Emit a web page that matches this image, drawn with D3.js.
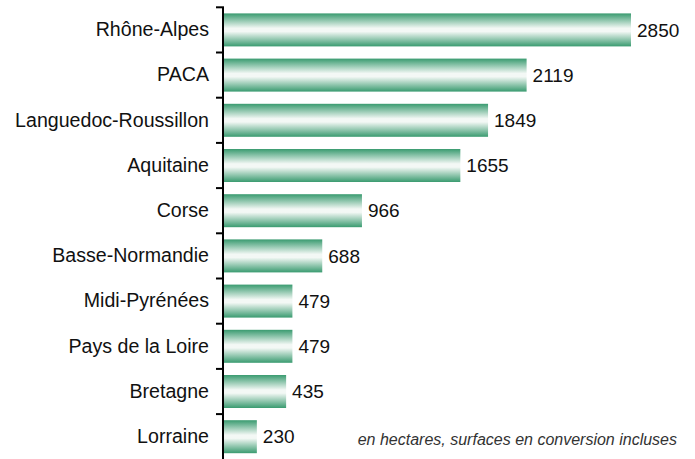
<!DOCTYPE html>
<html>
<head>
<meta charset="utf-8">
<script src="https://cdn.jsdelivr.net/npm/d3@7"></script>
<style>
  body { margin: 0; background: #fff; }
  svg { display: block; }
</style>
</head>
<body>
<div id="chart"></div>
<script>
"use strict";

// Data
const regions = ["Rhône-Alpes", "PACA", "Languedoc-Roussillon", "Aquitaine", "Corse",
                 "Basse-Normandie", "Midi-Pyrénées", "Pays de la Loire", "Bretagne", "Lorraine"];
const surfaces = [2850, 2119, 1849, 1655, 966, 688, 479, 479, 435, 230];
const note = "en hectares, surfaces en conversion incluses";

const width = 695, height = 459;

let svg = d3.select("#chart").append("svg")
  .attr("width", width)
  .attr("height", height);

// Cylinder-like gradient for bars
let grad = svg.append("defs").append("linearGradient")
  .attr("id", "bargrad")
  .attr("x1", 0).attr("y1", 0).attr("x2", 0).attr("y2", 1);
grad.append("stop").attr("offset", "0%").attr("stop-color", "#3a9b70");
grad.append("stop").attr("offset", "45%").attr("stop-color", "#f3f8f5");
grad.append("stop").attr("offset", "55%").attr("stop-color", "#f3f8f5");
grad.append("stop").attr("offset", "100%").attr("stop-color", "#3a9b70");

let x = d3.scaleLinear()
  .domain([0, 2850])
  .range([224, 631]);

let y = d3.scaleBand()
  .domain(regions)
  .range([7.3, 459.3])
  .paddingInner(0.27)
  .paddingOuter(0.135);

// Bars
svg.selectAll("rect.bar")
  .data(surfaces)
  .enter().append("rect")
  .attr("class", "bar")
  .attr("x", x(0))
  .attr("y", (d, i) => y(regions[i]))
  .attr("width", d => x(d) - x(0))
  .attr("height", y.bandwidth())
  .style("fill", "url(#bargrad)");

// Value labels
svg.selectAll("text.val")
  .data(surfaces)
  .enter().append("text")
  .attr("class", "val")
  .attr("x", d => x(d) + 6)
  .attr("y", (d, i) => y(regions[i]) + y.bandwidth() / 2)
  .attr("dy", "0.35em")
  .text(d => d)
  .attr("font-family", "Liberation Sans, Arial, sans-serif")
  .attr("font-size", "19px")
  .attr("fill", "#111");

// Category axis
let axis = d3.axisLeft(y).tickSize(0).tickPadding(15);
let ag = svg.append("g")
  .attr("transform", "translate(" + x(0) + ",0)")
  .call(axis);
ag.select(".domain").remove();
ag.selectAll("text")
  .attr("font-family", "Liberation Sans, Arial, sans-serif")
  .attr("font-size", "19.6px")
  .attr("fill", "#111");

// Axis line and band separators
let step = y.step();
let bounds = regions.map((r, i) => y.range()[0] + i * step);
svg.append("line")
  .attr("x1", x(0) - 1).attr("x2", x(0) - 1)
  .attr("y1", y.range()[0]).attr("y2", height + 2)
  .attr("stroke", "#000").attr("stroke-width", 2);
svg.selectAll("line.sep")
  .data(bounds)
  .enter().append("line")
  .attr("class", "sep")
  .attr("x1", x(0) - 8).attr("x2", x(0))
  .attr("y1", d => d).attr("y2", d => d)
  .attr("stroke", "#000").attr("stroke-width", 2);

// Note
svg.append("text")
  .attr("x", 677)
  .attr("y", 445)
  .attr("text-anchor", "end")
  .text(note)
  .attr("font-family", "Liberation Sans, Arial, sans-serif")
  .attr("font-style", "italic")
  .attr("font-size", "16px")
  .attr("fill", "#333");
</script>
</body>
</html>
